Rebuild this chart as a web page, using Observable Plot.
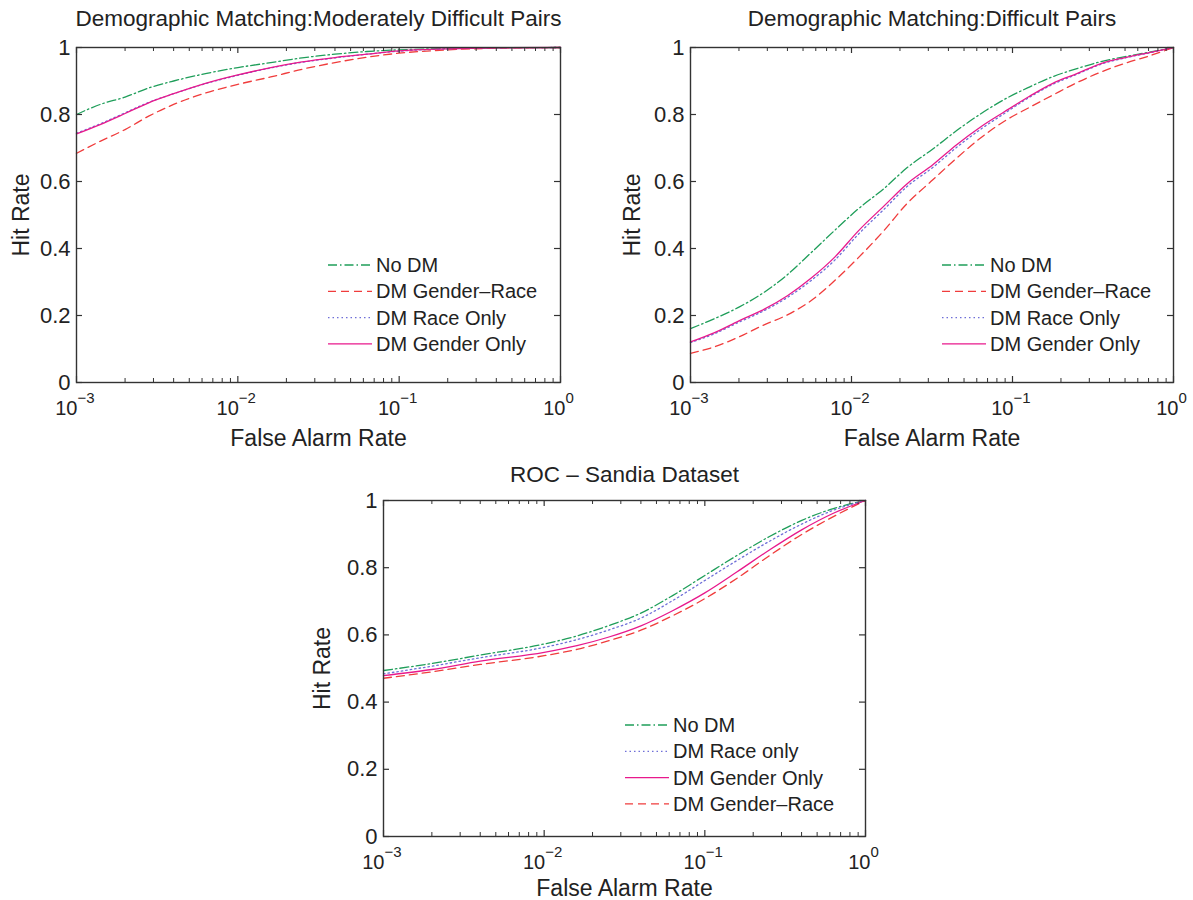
<!DOCTYPE html>
<html>
<head>
<meta charset="utf-8">
<script src="https://cdn.jsdelivr.net/npm/d3@7"></script>
<script src="https://cdn.jsdelivr.net/npm/@observablehq/plot@0.6"></script>
<style>
  body { margin: 0; background: #fff; }
  #root { position: relative; width: 1193px; height: 900px; background: #fff; font-family: "Liberation Sans", Arial, Helvetica, sans-serif; }
  .panel { position: absolute; }
  #legend { position: absolute; left: 0; top: 0; pointer-events: none; }
</style>
</head>
<body>
<div id="root"></div>
<script>
// ---------- Data ----------
// Panel A: Demographic Matching: Moderately Difficult Pairs
const farA = [0.001, 0.0014, 0.002, 0.0028, 0.004, 0.0063, 0.01, 0.016, 0.025, 0.04, 0.063, 0.1, 0.2, 0.4, 1];
const a_noDM       = [0.800, 0.830, 0.852, 0.879, 0.900, 0.922, 0.940, 0.955, 0.969, 0.980, 0.988, 0.993, 0.997, 0.999, 1.000];
const a_genderRace = [0.684, 0.720, 0.755, 0.795, 0.830, 0.864, 0.890, 0.912, 0.935, 0.955, 0.971, 0.983, 0.993, 0.998, 1.000];
const a_raceOnly   = [0.744, 0.772, 0.805, 0.836, 0.862, 0.892, 0.917, 0.939, 0.956, 0.969, 0.980, 0.989, 0.996, 0.999, 1.000];
const a_genderOnly = [0.742, 0.770, 0.803, 0.835, 0.862, 0.893, 0.918, 0.940, 0.957, 0.970, 0.980, 0.990, 0.996, 0.999, 1.000];

// Panel B: Demographic Matching: Difficult Pairs
const farB = [0.001, 0.0014, 0.002, 0.0028, 0.004, 0.0056, 0.0079, 0.011, 0.016, 0.022, 0.032, 0.045, 0.063, 0.089, 0.126, 0.178, 0.251, 0.355, 0.501, 0.708, 1];
const b_noDM       = [0.161, 0.190, 0.225, 0.266, 0.322, 0.387, 0.455, 0.518, 0.580, 0.640, 0.697, 0.752, 0.801, 0.845, 0.881, 0.913, 0.937, 0.958, 0.973, 0.986, 1.000];
const b_genderRace = [0.087, 0.106, 0.136, 0.170, 0.202, 0.244, 0.305, 0.372, 0.455, 0.533, 0.605, 0.670, 0.729, 0.780, 0.820, 0.858, 0.895, 0.927, 0.953, 0.975, 1.000];
const b_raceOnly   = [0.119, 0.145, 0.180, 0.212, 0.254, 0.304, 0.366, 0.442, 0.518, 0.584, 0.642, 0.702, 0.755, 0.803, 0.850, 0.890, 0.920, 0.950, 0.969, 0.984, 1.000];
const b_genderOnly = [0.121, 0.148, 0.184, 0.216, 0.259, 0.311, 0.375, 0.452, 0.528, 0.592, 0.650, 0.710, 0.762, 0.808, 0.853, 0.893, 0.922, 0.952, 0.970, 0.985, 1.000];

// Panel C: ROC - Sandia Dataset
const farC = [0.001, 0.002, 0.004, 0.01, 0.016, 0.025, 0.04, 0.063, 0.1, 0.158, 0.251, 0.398, 0.631, 1];
const c_noDM       = [0.494, 0.515, 0.540, 0.573, 0.597, 0.627, 0.665, 0.717, 0.777, 0.836, 0.892, 0.940, 0.976, 1.000];
const c_raceOnly   = [0.484, 0.507, 0.532, 0.563, 0.586, 0.614, 0.650, 0.702, 0.762, 0.821, 0.878, 0.929, 0.971, 1.000];
const c_genderOnly = [0.479, 0.497, 0.522, 0.548, 0.568, 0.593, 0.627, 0.672, 0.725, 0.787, 0.852, 0.912, 0.962, 1.000];
const c_genderRace = [0.471, 0.490, 0.512, 0.538, 0.557, 0.582, 0.614, 0.657, 0.708, 0.768, 0.835, 0.898, 0.952, 1.000];

const yTicks = [0, 0.2, 0.4, 0.6, 0.8, 1];
const xMajor = [0.001, 0.01, 0.1, 1];
const titles = ["Demographic Matching:Moderately Difficult Pairs", "Demographic Matching:Difficult Pairs", "ROC \u2013 Sandia Dataset"];
const xLabel = "False Alarm Rate";
const yLabel = "Hit Rate";

// ---------- Styles ----------
const styles = {
  "No DM":           {stroke: "#1f9e5a", dash: "9,3,1.5,3"},
  "DM Gender\u2013Race": {stroke: "#f03c3c", dash: "8,5"},
  "DM Race Only":    {stroke: "#6f6fd8", dash: "1.5,3"},
  "DM Race only":    {stroke: "#6f6fd8", dash: "1.5,3"},
  "DM Gender Only":  {stroke: "#e8198c", dash: null}
};

const panels = [
  {left: 0, top: 0, width: 596, height: 460, mL: 76, mR: 36, mT: 47, mB: 78, title: titles[0], far: farA,
   titleDy: -29, xLabDy: 56, yLabDx: -55,
   series: [["No DM", a_noDM], ["DM Gender\u2013Race", a_genderRace], ["DM Race Only", a_raceOnly], ["DM Gender Only", a_genderOnly]],
   drawOrder: [0, 1, 2, 3], legend: {x: 328, y: 265}},
  {left: 600, top: 0, width: 593, height: 460, mL: 90, mR: 20, mT: 47, mB: 78, title: titles[1], far: farB,
   titleDy: -29, xLabDy: 56, yLabDx: -58,
   series: [["No DM", b_noDM], ["DM Gender\u2013Race", b_genderRace], ["DM Race Only", b_raceOnly], ["DM Gender Only", b_genderOnly]],
   drawOrder: [0, 1, 2, 3], legend: {x: 942, y: 265}},
  {left: 300, top: 455, width: 600, height: 445, mL: 83, mR: 35, mT: 45, mB: 64, title: titles[2], far: farC,
   titleDy: -26, xLabDy: 52, yLabDx: -61,
   series: [["No DM", c_noDM], ["DM Race only", c_raceOnly], ["DM Gender Only", c_genderOnly], ["DM Gender\u2013Race", c_genderRace]],
   drawOrder: [0, 1, 3, 2], legend: {x: 625, y: 725}}
];

const axisColor = "#333";
const textColor = "#222";
const font = "Liberation Sans, Arial, Helvetica, sans-serif";
const xMinor = d3.scaleLog().domain([0.001, 1]).ticks().filter(v => !xMajor.some(m => Math.abs(m - v) < 1e-12));
const supFmt = v => { const e = Math.round(Math.log10(v)); return e < 0 ? "\u2212" + (-e) : String(e); };
const xNeg = xMajor.filter(v => v < 1);
const xZero = xMajor.filter(v => v >= 1);

const root = document.getElementById("root");

for (const p of panels) {
  const innerW = p.width - p.mL - p.mR;
  const innerH = p.height - p.mT - p.mB;
  const lineMarks = p.drawOrder.map(i => {
    const [name, vals] = p.series[i];
    const st = styles[name];
    const data = p.far.map((x, j) => ({x, y: vals[j]}));
    return Plot.line(data, {x: "x", y: "y", curve: "monotone-x", stroke: st.stroke, strokeWidth: 1.3, strokeDasharray: st.dash || undefined});
  });
  const chart = Plot.plot({
    width: p.width, height: p.height,
    marginLeft: p.mL, marginRight: p.mR, marginTop: p.mT, marginBottom: p.mB,
    style: {fontFamily: font, background: "transparent", overflow: "visible"},
    x: {type: "log", domain: [0.001, 1], axis: null},
    y: {domain: [0, 1], axis: null},
    marks: [
      ...lineMarks,
      // inward ticks
      Plot.tickY(yTicks, {y: d => d, insetRight: innerW - 6, stroke: axisColor, strokeWidth: 1.2}),
      Plot.tickY(yTicks, {y: d => d, insetLeft: innerW - 6, stroke: axisColor, strokeWidth: 1.2}),
      Plot.tickX(xMajor, {x: d => d, insetTop: innerH - 6, stroke: axisColor, strokeWidth: 1.2}),
      Plot.tickX(xMajor, {x: d => d, insetBottom: innerH - 6, stroke: axisColor, strokeWidth: 1.2}),
      Plot.tickX(xMinor, {x: d => d, insetTop: innerH - 4, stroke: axisColor, strokeWidth: 1}),
      Plot.tickX(xMinor, {x: d => d, insetBottom: innerH - 4, stroke: axisColor, strokeWidth: 1}),
      Plot.frame({stroke: axisColor, strokeWidth: 1.4}),
      // y tick labels
      Plot.text(yTicks, {y: d => d, frameAnchor: "left", dx: -6, text: d => String(d), textAnchor: "end", fontSize: 22, fill: textColor}),
      // x tick labels: 10^e (whole label centred on the tick)
      Plot.text(xNeg, {x: d => d, frameAnchor: "bottom", dy: 26, dx: 1, text: () => "10", textAnchor: "end", lineAnchor: "middle", fontSize: 20, fill: textColor}),
      Plot.text(xNeg, {x: d => d, frameAnchor: "bottom", dy: 16, dx: 1, text: supFmt, textAnchor: "start", lineAnchor: "middle", fontSize: 15, fill: textColor}),
      Plot.text(xZero, {x: d => d, frameAnchor: "bottom", dy: 26, dx: 5, text: () => "10", textAnchor: "end", lineAnchor: "middle", fontSize: 20, fill: textColor}),
      Plot.text(xZero, {x: d => d, frameAnchor: "bottom", dy: 16, dx: 5, text: supFmt, textAnchor: "start", lineAnchor: "middle", fontSize: 15, fill: textColor}),
      // title and axis labels
      Plot.text([p.title], {frameAnchor: "top", dy: p.titleDy, text: d => d, textAnchor: "middle", lineAnchor: "middle", fontSize: 22.5, fill: textColor}),
      Plot.text([xLabel], {frameAnchor: "bottom", dy: p.xLabDy, text: d => d, textAnchor: "middle", lineAnchor: "middle", fontSize: 23, fill: textColor}),
      Plot.text([yLabel], {frameAnchor: "left", dx: p.yLabDx, rotate: -90, text: d => d, textAnchor: "middle", lineAnchor: "middle", fontSize: 23, fill: textColor})
    ]
  });
  const div = document.createElement("div");
  div.className = "panel";
  div.style.left = p.left + "px";
  div.style.top = p.top + "px";
  div.appendChild(chart);
  root.appendChild(div);
}

// ---------- Legends (overlay) ----------
const svg = d3.select(root).append("svg").attr("id", "legend").attr("width", 1193).attr("height", 900);
for (const p of panels) {
  const g = svg.append("g");
  p.series.forEach(([name], i) => {
    const st = styles[name];
    const y = p.legend.y + i * 26.3;
    g.append("line").attr("x1", p.legend.x).attr("x2", p.legend.x + 44).attr("y1", y).attr("y2", y)
      .attr("stroke", st.stroke).attr("stroke-width", 1.3).attr("stroke-dasharray", st.dash);
    g.append("text").attr("x", p.legend.x + 48).attr("y", y).attr("dy", "0.35em")
      .attr("font-family", font).attr("font-size", 20).attr("fill", textColor).text(name);
  });
}
</script>
</body>
</html>
